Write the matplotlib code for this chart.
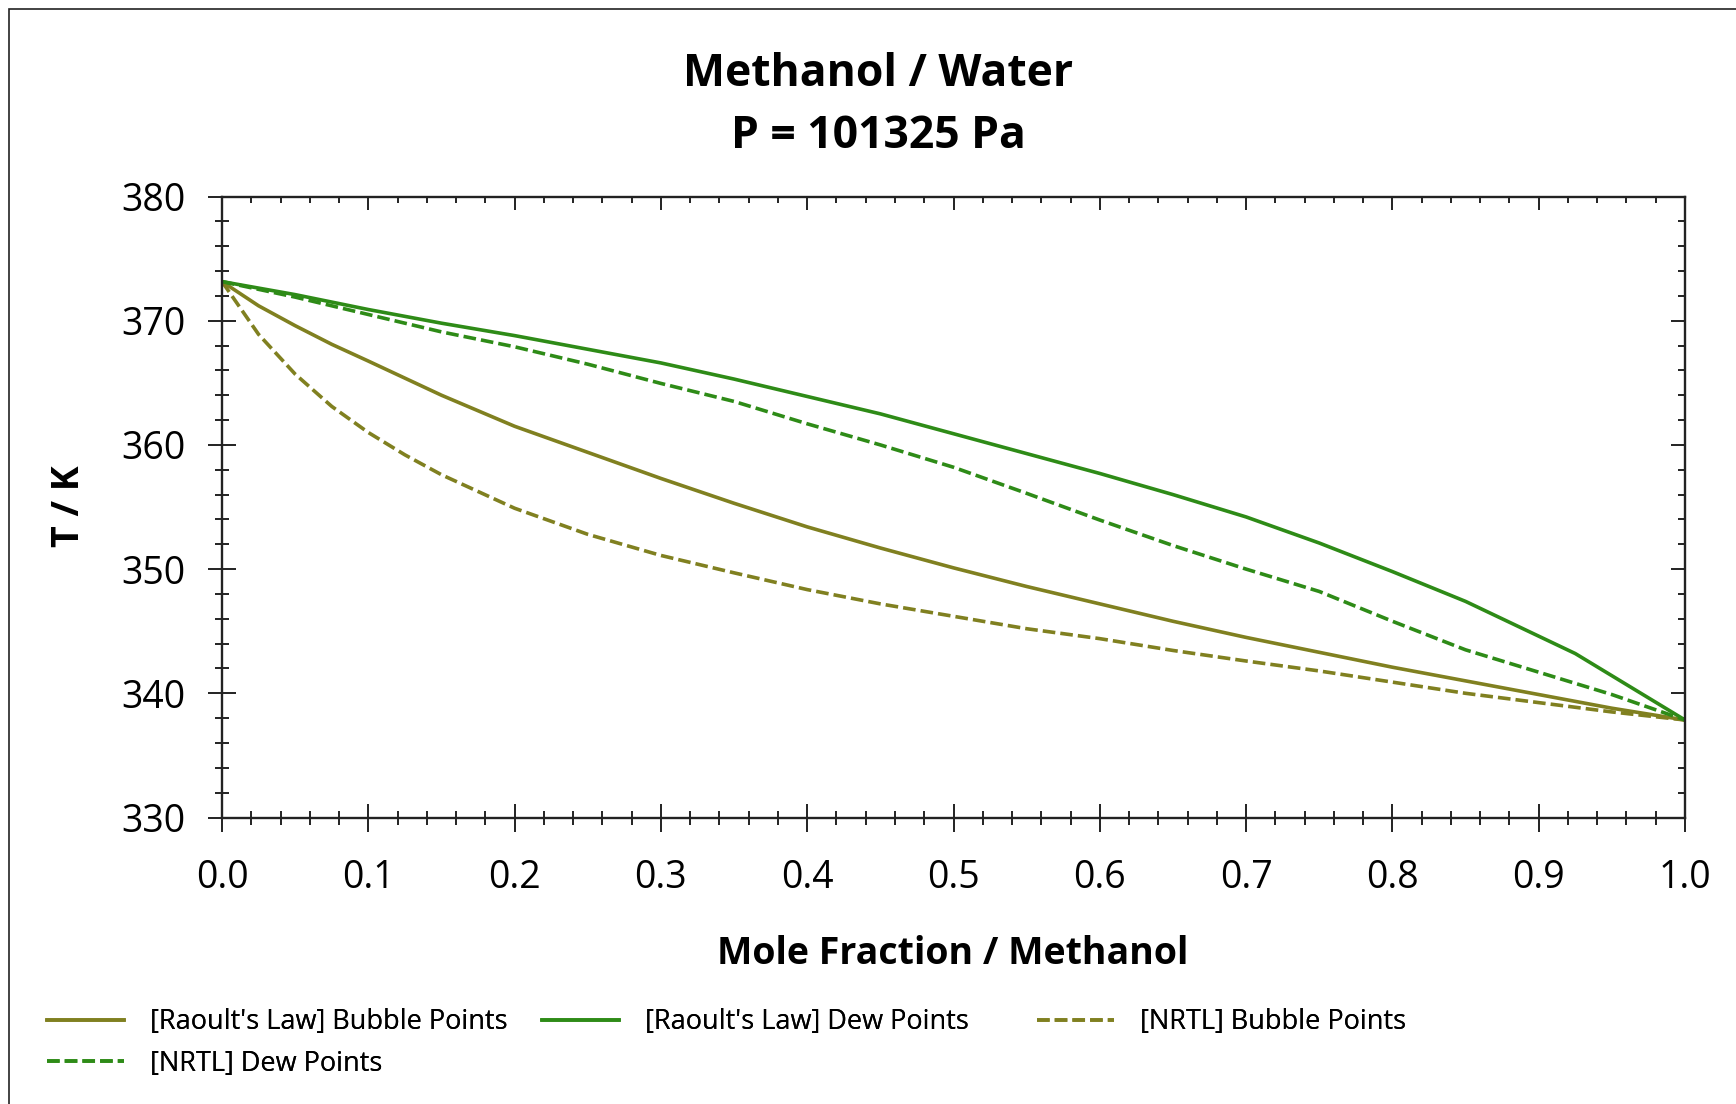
import matplotlib
matplotlib.use("Agg")
import matplotlib.pyplot as plt
from matplotlib.patches import Rectangle
from matplotlib.ticker import MultipleLocator

plt.rcParams['font.family'] = ['Open Sans', 'DejaVu Sans']

# Liquid mole fraction of methanol
x_bub_raoult = [0.0, 0.025, 0.05, 0.075, 0.1, 0.15, 0.2, 0.25, 0.3, 0.35, 0.4, 0.45,
                0.5, 0.55, 0.6, 0.65, 0.7, 0.75, 0.8, 0.85, 0.9, 0.95, 1.0]
T_bub_raoult = [373.15, 371.2, 369.6, 368.1, 366.75, 364.0, 361.5, 359.4, 357.3, 355.3,
                353.4, 351.7, 350.1, 348.6, 347.2, 345.8, 344.5, 343.3, 342.1, 341.0,
                339.9, 338.8, 337.85]

x_dew_raoult = [0.0, 0.05, 0.1, 0.15, 0.2, 0.25, 0.3, 0.35, 0.4, 0.45, 0.5, 0.55,
                0.6, 0.65, 0.7, 0.75, 0.8, 0.85, 0.925, 1.0]
T_dew_raoult = [373.15, 372.1, 370.9, 369.8, 368.8, 367.7, 366.6, 365.3, 363.9, 362.5,
                360.9, 359.3, 357.7, 356.0, 354.2, 352.1, 349.8, 347.4, 343.2, 337.85]

x_bub_nrtl = [0.0, 0.025, 0.05, 0.075, 0.1, 0.125, 0.15, 0.2, 0.25, 0.3, 0.35, 0.4,
              0.45, 0.5, 0.55, 0.6, 0.65, 0.7, 0.75, 0.8, 0.85, 0.9, 0.95, 1.0]
T_bub_nrtl = [373.15, 368.9, 365.7, 363.1, 361.0, 359.2, 357.6, 354.9, 352.8, 351.1,
              349.7, 348.35, 347.2, 346.2, 345.2, 344.4, 343.45, 342.6, 341.8, 340.9,
              340.0, 339.25, 338.5, 337.85]

x_dew_nrtl = [0.0, 0.05, 0.1, 0.15, 0.2, 0.25, 0.3, 0.35, 0.4, 0.45, 0.5, 0.55,
              0.6, 0.65, 0.7, 0.75, 0.8, 0.85, 0.9, 0.95, 1.0]
T_dew_nrtl = [373.15, 371.9, 370.5, 369.1, 367.9, 366.5, 364.95, 363.5, 361.7, 360.0,
              358.2, 356.1, 353.95, 351.9, 350.0, 348.2, 345.8, 343.5, 341.7, 339.9,
              337.85]

labels = ["[Raoult's Law] Bubble Points", "[Raoult's Law] Dew Points",
          "[NRTL] Bubble Points", "[NRTL] Dew Points"]

OLIVE = '#808020'
GREEN = '#2e8b17'
AXC = '#222222'
DASH = (3.5, 1.4)

W, H = 1736, 1104
fig = plt.figure(figsize=(W / 100, H / 100), dpi=100)
ax = fig.add_axes([222 / W, 1 - 817.5 / H, (1685 - 222) / W, (817.5 - 196.5) / H])

lw = 2.6
l1, = ax.plot(x_bub_raoult, T_bub_raoult, color=OLIVE, lw=lw)
l2, = ax.plot(x_dew_raoult, T_dew_raoult, color=GREEN, lw=lw)
l3, = ax.plot(x_bub_nrtl, T_bub_nrtl, color=OLIVE, lw=lw, linestyle=(0, DASH))
l4, = ax.plot(x_dew_nrtl, T_dew_nrtl, color=GREEN, lw=lw, linestyle=(0, DASH))

ax.set_xlim(0, 1)
ax.set_ylim(330, 380)
ax.xaxis.set_major_locator(MultipleLocator(0.1))
ax.xaxis.set_minor_locator(MultipleLocator(0.02))
ax.yaxis.set_major_locator(MultipleLocator(10))
ax.yaxis.set_minor_locator(MultipleLocator(2))
ax.xaxis.set_major_formatter(lambda v, p: f"{v:.1f}")

for s in ax.spines.values():
    s.set_color(AXC)
    s.set_linewidth(1.7)

ax.tick_params(which='major', direction='inout', length=20, width=1.4, color=AXC,
               labelsize=27, labelcolor='black')
ax.tick_params(which='minor', direction='inout', length=10, width=1.4, color=AXC)
ax.tick_params(axis='y', which='major', pad=16)
ax.tick_params(axis='x', which='major', pad=20)

# inward ticks on the top and right frame
top = ax.secondary_xaxis('top')
right = ax.secondary_yaxis('right')
top.xaxis.set_major_locator(MultipleLocator(0.1))
top.xaxis.set_minor_locator(MultipleLocator(0.02))
right.yaxis.set_major_locator(MultipleLocator(10))
right.yaxis.set_minor_locator(MultipleLocator(2))
for sec in (top, right):
    sec.tick_params(which='major', direction='in', length=10, width=1.4, color=AXC)
    sec.tick_params(which='minor', direction='in', length=5, width=1.4, color=AXC)
    sec.tick_params(labeltop=False, labelright=False, labelbottom=False, labelleft=False)
    for s in sec.spines.values():
        s.set_visible(False)

# titles and axis labels
fig.text(878 / W, 1 - 75 / H, "Methanol / Water", ha='center', va='center',
         fontsize=32, fontweight='bold')
fig.text(878 / W, 1 - 136 / H, "P = 101325 Pa", ha='center', va='center',
         fontsize=32, fontweight='bold')
fig.text(953 / W, 1 - 954 / H, "Mole Fraction / Methanol", ha='center', va='center',
         fontsize=27, fontweight='bold')
fig.text(69 / W, 1 - 506 / H, "T / K", ha='center', va='center', rotation=90,
         fontsize=27, fontweight='bold')

# legend in three fixed-width columns
leg_kw = dict(frameon=False, fontsize=19.5, handlelength=2.85, handletextpad=0.97,
              labelspacing=0.5, borderpad=0, borderaxespad=0, loc='upper left')
cols = [([l1, l4], [labels[0], labels[3]], 47),
        ([l2], [labels[1]], 542),
        ([l3], [labels[2]], 1037)]
for handles, labs, x0 in cols:
    leg = fig.legend(handles, labs, bbox_to_anchor=(x0 / W, 1 - 1008 / H), **leg_kw)
    fig.add_artist(leg)

# outer frame
fig.patches.append(Rectangle((9 / W, -0.01), 1.02, 1 - 9 / H + 0.01, transform=fig.transFigure,
                             fill=False, edgecolor='#222222', linewidth=1.2))

fig.savefig("out.png", dpi=100)
